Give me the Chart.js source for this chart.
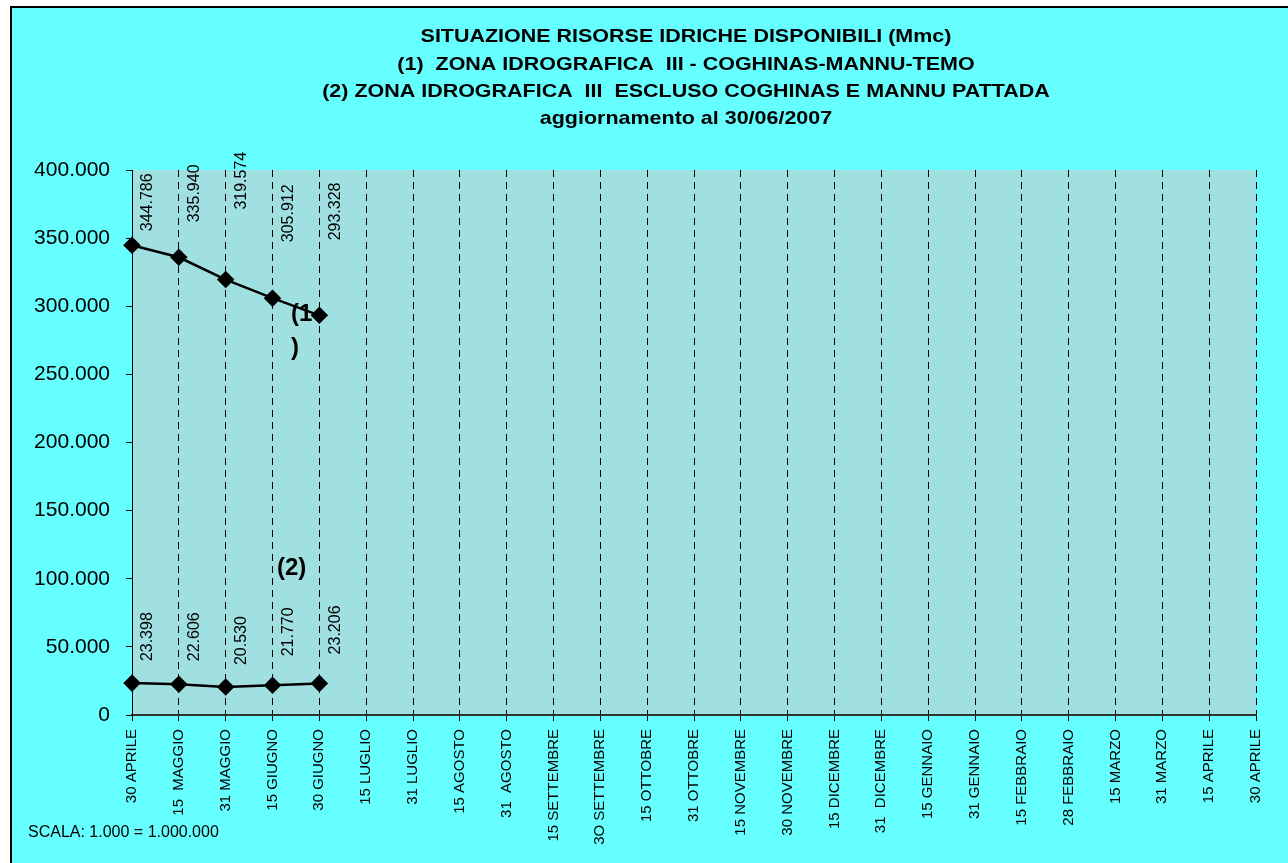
<!DOCTYPE html>
<html>
<head>
<meta charset="utf-8">
<script src="https://cdn.jsdelivr.net/npm/chart.js@4.4.0/dist/chart.umd.min.js"></script>
<style>
html, body { margin: 0; padding: 0; background: #fff; overflow: hidden; }
#frame { position: absolute; left: 10px; top: 6px; width: 1300px; height: 880px; background: #66ffff; border-left: 2px solid #000; border-top: 2px solid #000; }
#wrap { position: absolute; left: 0; top: 0; width: 1288px; height: 863px; }
</style>
</head>
<body>
<div id="frame"></div>
<div id="wrap"><canvas id="chart" width="1288" height="863"></canvas></div>
<script>
// Dates on the x axis (as written in the sheet)
const dates = [
    '30 APRILE', '15  MAGGIO', '31 MAGGIO', '15 GIUGNO', '30 GIUGNO',
    '15 LUGLIO', '31 LUGLIO', '15 AGOSTO', '31  AGOSTO', '15 SETTEMBRE',
    '3O SETTEMBRE', '15 OTTOBRE', '31 OTTOBRE', '15 NOVEMBRE', '30 NOVEMBRE',
    '15 DICEMBRE', '31  DICEMBRE', '15 GENNAIO', '31 GENNAIO', '15 FEBBRAIO',
    '28 FEBBRAIO', '15 MARZO', '31 MARZO', '15 APRILE', '30 APRILE'
];

// (1) Zona idrografica III - Coghinas-Mannu-Temo
const zona1 = [344786, 335940, 319574, 305912, 293328];
// (2) Zona idrografica III escluso Coghinas e Mannu Pattada
const zona2 = [23398, 22606, 20530, 21770, 23206];

const yMin = 0;
const yMax = 400000;
const yStep = 50000;

const titleLines = [
    'SITUAZIONE RISORSE IDRICHE DISPONIBILI (Mmc)',
    '(1)  ZONA IDROGRAFICA  III - COGHINAS-MANNU-TEMO',
    '(2) ZONA IDROGRAFICA  III  ESCLUSO COGHINAS E MANNU PATTADA',
    'aggiornamento al 30/06/2007'
];

// how far above each point its label sits (label placement, like in the sheet)
const labelLift = [
    [14, 35, 70, 56, 75],
    [22, 23, 22, 29, 29]
];

function fmt(n) {
    return String(n).replace(/\B(?=(\d{3})+(?!\d))/g, '.');
}

const FONT = '"Liberation Sans", Arial, sans-serif';

const plotBg = {
    id: 'plotBg',
    beforeDraw(chart) {
        const a = chart.chartArea;
        const c = chart.ctx;
        c.save();
        c.fillStyle = '#a0e0e0';
        c.fillRect(a.left, a.top, a.right - a.left, a.bottom - a.top);
        c.restore();
    }
};

const valueLabels = {
    id: 'valueLabels',
    afterDatasetsDraw(chart) {
        const c = chart.ctx;
        c.save();
        c.fillStyle = '#000';
        c.font = '16px ' + FONT;
        c.textAlign = 'left';
        c.textBaseline = 'middle';
        chart.data.datasets.forEach((ds, i) => {
            const meta = chart.getDatasetMeta(i);
            meta.data.forEach((pt, j) => {
                if (ds.data[j] == null) return;
                c.save();
                c.translate(pt.x + 16, pt.y - labelLift[i][j]);
                c.rotate(-Math.PI / 2);
                c.fillText(fmt(ds.data[j]), 0, 0);
                c.restore();
            });
        });
        c.restore();
    }
};

const texts = {
    id: 'texts',
    afterDraw(chart) {
        const c = chart.ctx;
        c.save();
        c.fillStyle = '#000';
        c.textAlign = 'center';
        c.textBaseline = 'middle';
        c.font = 'bold 19px ' + FONT;
        titleLines.forEach((t, i) => {
            c.save();
            c.translate(686, 37 + i * 27.3);
            c.scale(1.13, 1);
            c.fillText(t, 0, 0);
            c.restore();
        });

        c.textAlign = 'left';
        c.font = '16px ' + FONT;
        c.fillText('SCALA: 1.000 = 1.000.000', 28, 833);

        c.font = 'bold 24px ' + FONT;
        c.fillText('(1', 291, 314);
        c.fillText(')', 291, 348);
        c.fillText('(2)', 277, 568);
        c.restore();
    }
};

const ctx = document.getElementById('chart').getContext('2d');
const chart = new Chart(ctx, {
    type: 'line',
    data: {
        labels: dates,
        datasets: [{
            label: '(1)',
            data: zona1,
            borderColor: '#000',
            backgroundColor: '#000',
            borderWidth: 2.5,
            pointStyle: 'rectRot',
            pointRadius: 7,
            fill: false
        }, {
            label: '(2)',
            data: zona2,
            borderColor: '#000',
            backgroundColor: '#000',
            borderWidth: 2.5,
            pointStyle: 'rectRot',
            pointRadius: 7,
            fill: false
        }]
    },
    options: {
        responsive: false,
        animation: false,
        layout: { padding: { top: 170, left: 0, right: 32, bottom: 0 } },
        plugins: {
            legend: { display: false },
            tooltip: { enabled: false },
            title: { display: false }
        },
        scales: {
            x: {
                offset: false,
                grid: {
                    display: true,
                    color: '#000',
                    lineWidth: 1,
                    tickLength: 6,
                    tickColor: '#000'
                },
                // in v4 the dash of the grid lines comes from border.dash
                border: { display: true, color: '#333', width: 2, dash: [7, 5] },
                ticks: {
                    autoSkip: false,
                    maxRotation: 90,
                    minRotation: 90,
                    padding: 8,
                    color: '#000',
                    font: { family: FONT, size: 15 }
                },
                afterFit(scale) { scale.height = 148; }
            },
            y: {
                min: yMin,
                max: yMax,
                grid: {
                    drawOnChartArea: false,
                    drawTicks: true,
                    tickLength: 6,
                    tickColor: '#000'
                },
                border: { display: true, color: '#000', width: 1 },
                ticks: {
                    stepSize: yStep,
                    padding: 16,
                    color: '#000',
                    font: { family: FONT, size: 21 },
                    callback: v => fmt(v)
                },
                afterFit(scale) { scale.width = 132; }
            }
        }
    },
    plugins: [plotBg, valueLabels, texts]
});
</script>
</body>
</html>
